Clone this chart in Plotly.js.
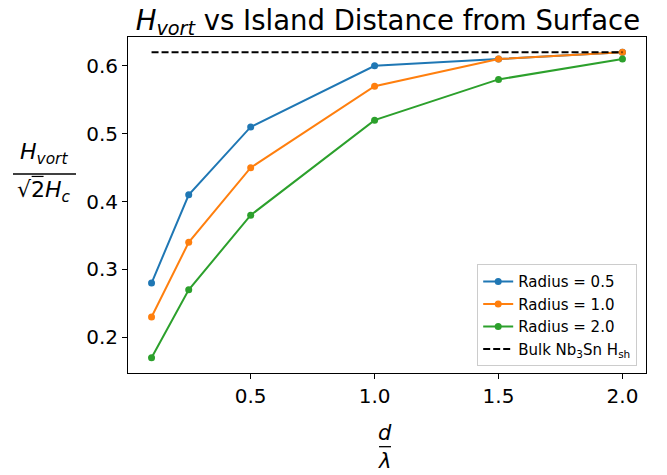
<!DOCTYPE html>
<html><head><meta charset="utf-8">
<script src="https://cdn.plot.ly/plotly-3.0.1.min.js"></script>
<style>body{margin:0;padding:0;background:#fff;}#chart{width:667px;height:475px;}</style>
</head><body><div id="chart"></div>
<script>
const distance = [0.1, 0.25, 0.5, 1.0, 1.5, 2.0];
const radius05 = [0.28, 0.41, 0.51, 0.60, 0.61, 0.62];
const radius10 = [0.23, 0.34, 0.45, 0.57, 0.61, 0.62];
const radius20 = [0.17, 0.27, 0.38, 0.52, 0.58, 0.61];
const bulkX = [0.1, 2.0];
const bulkY = [0.62, 0.62];
const seriesNames = ["Radius = 0.5", "Radius = 1.0", "Radius = 2.0", "Bulk Nb<sub>3</sub>Sn H<sub>sh</sub>"];
const colors = ["#1f77b4", "#ff7f0e", "#2ca02c"];
const xTicks = [0.5, 1.0, 1.5, 2.0];
const yTicks = [0.2, 0.3, 0.4, 0.5, 0.6];

const font = "DejaVu Sans, sans-serif";
const traces = [radius05, radius10, radius20].map((ys, i) => ({
  x: distance, y: ys, type: "scatter", mode: "lines+markers",
  name: seriesNames[i],
  line: {color: colors[i], width: 2},
  marker: {color: colors[i], size: 7}
}));
traces.push({
  x: bulkX, y: bulkY, type: "scatter", mode: "lines",
  name: seriesNames[3],
  line: {color: "#000", width: 2, dash: "7px,3px"}
});

const axisCommon = {
  showline: true, mirror: true, linecolor: "#000", linewidth: 1,
  ticks: "outside", ticklen: 5, tickwidth: 1, tickcolor: "#000",
  showgrid: false, zeroline: false,
  tickfont: {family: font, size: 20, color: "#000"}
};

const layout = {
  width: 667, height: 475,
  margin: {l: 128, r: 21, t: 37, b: 102},
  paper_bgcolor: "#fff", plot_bgcolor: "#fff",
  title: {text: "<i>H</i><sub><i>vort</i></sub> vs Island Distance from Surface",
    font: {family: font, size: 27.5, color: "#000"},
    x: 0.5816, xanchor: "center", y: 0.978, yanchor: "top"},
  xaxis: Object.assign({}, axisCommon, {range: [0.005, 2.095], tickvals: xTicks, tickformat: ".1f"}),
  yaxis: Object.assign({}, axisCommon, {range: [0.1475, 0.6425], tickvals: yTicks, tickformat: ".1f"}),
  legend: {x: 0.983, y: 0.02, xanchor: "right", yanchor: "bottom",
    bgcolor: "rgba(255,255,255,0.8)", bordercolor: "#cccccc", borderwidth: 1,
    font: {family: font, size: 15, color: "#000"}, itemwidth: 30, tracegroupgap: 0},
  showlegend: true,
  annotations: [
    {text: "<i>H</i><sub><i>vort</i></sub>", xref: "paper", yref: "paper", x: -0.1612, y: 0.652, xanchor: "center", yanchor: "middle", showarrow: false, font: {family: font, size: 22, color: "#000"}},
    {text: "√2<i>H</i><sub><i>c</i></sub>", xref: "paper", yref: "paper", x: -0.1612, y: 0.5387, xanchor: "center", yanchor: "middle", showarrow: false, font: {family: font, size: 22, color: "#000"}},
    {text: "<i>d</i>", xref: "paper", yref: "paper", x: 0.4961, y: -0.1786, xanchor: "center", yanchor: "middle", showarrow: false, font: {family: font, size: 21, color: "#000"}},
    {text: "<i>λ</i>", xref: "paper", yref: "paper", x: 0.4961, y: -0.2619, xanchor: "center", yanchor: "middle", showarrow: false, font: {family: font, size: 21, color: "#000"}}
  ],
  shapes: [
    {type: "line", xref: "paper", yref: "paper", x0: -0.222, x1: -0.1004, y0: 0.5923, y1: 0.5923, line: {color: "#000", width: 1.3}},
    {type: "line", xref: "paper", yref: "paper", x0: -0.186, x1: -0.163, y0: 0.585, y1: 0.585, line: {color: "#000", width: 1.2}},
    {type: "line", xref: "paper", yref: "paper", x0: 0.4846, x1: 0.5077, y0: -0.2193, y1: -0.2193, line: {color: "#000", width: 1.3}}
  ]
};
Plotly.newPlot("chart", traces, layout, {displayModeBar: false, staticPlot: true});
</script></body></html>
